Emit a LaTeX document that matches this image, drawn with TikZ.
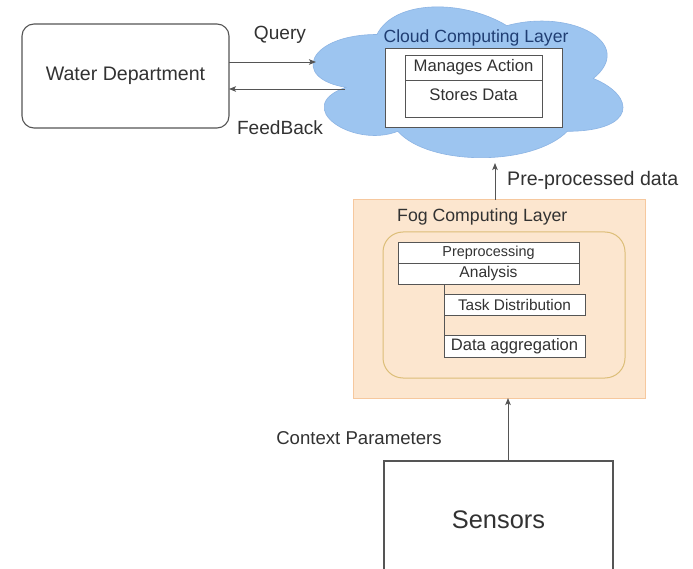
\documentclass[tikz,border=0pt]{standalone}
\usepackage{fontspec}
\setmainfont{Liberation Sans}
\usetikzlibrary{arrows.meta}
\definecolor{txt}{RGB}{50,50,50}
\definecolor{ln}{RGB}{85,85,85}
\definecolor{cloudfill}{RGB}{157,197,240}
\definecolor{cloudline}{RGB}{140,180,228}
\definecolor{cloudtxt}{RGB}{32,62,115}
\definecolor{fogfill}{RGB}{252,230,207}
\definecolor{fogline}{RGB}{246,200,158}
\definecolor{foginner}{RGB}{220,190,120}
\newcommand\myfs[1]{\fontsize{#1}{#1}\selectfont}
\begin{document}
\begin{tikzpicture}[x=1pt,y=-1pt,
  sized/.style 2 args={minimum width=#1pt, minimum height=#2pt, inner sep=0pt, outer sep=0pt},
  boxline/.style={draw=ln, line width=1.1pt},
  thinbox/.style={draw=ln, line width=0.9pt, fill=white},
  lbl/.style={text=txt, inner sep=0pt},
  arr/.style={draw=ln, line width=0.9pt, -{Stealth[length=7pt,width=5.5pt,inset=1.5pt]}}]
\useasboundingbox[fill=white] (0,0) rectangle (693,569);

% Water Department
\node[boxline, rounded corners=12pt, sized={207}{104}, text=txt, font=\myfs{19.6}] (water) at (125.5,76) {Water Department};

% Cloud
\draw[fill=cloudfill, draw=cloudline, line width=0.6pt]
  (377,34.5) .. controls (307.8,34.5) and (290.5,78.5) .. (345.9,87.3)
  .. controls (290.5,106.7) and (352.8,148.9) .. (397.8,131.3)
  .. controls (428.9,166.5) and (532.7,166.5) .. (567.3,131.3)
  .. controls (636.5,131.3) and (636.5,96.1) .. (593.3,78.5)
  .. controls (636.5,43.3) and (570.8,8.1) .. (506.8,25.7)
  .. controls (463.5,-0.7) and (394.3,-0.7) .. (377,34.5) -- cycle;
\node[lbl, text=cloudtxt, font=\myfs{17.6}] (cloudtitle) at (476,38) {Cloud Computing Layer};
\node[thinbox, sized={177}{79}] (cloudbox) at (473.5,87.5) {};
\node[thinbox, sized={137}{25}, text=txt, font=\myfs{16.7}] (manages) at (473.5,67.5) {Manages Action};
\node[thinbox, sized={137}{37}] (stores) at (473.5,98.5) {};
\node[lbl, font=\myfs{16.7}] (storestext) at (473.5,95) {Stores Data};

\coordinate (qend) at (316,62);
\coordinate (fbstart) at (345,89);
\coordinate (pptip) at (495,163);

\draw[arr] ([yshift=14pt]water.east) -- (qend);
\draw[arr] (fbstart) -- ([yshift=-13pt]water.east);
\node[lbl, font=\myfs{19.1}] (query) at (280,35) {Query};
\node[lbl, font=\myfs{19.1}] (feedback) at (280,128) {FeedBack};

% Fog
\node[draw=fogline, fill=fogfill, line width=1pt, sized={292}{198}] (fog) at (499,299) {};
\node[lbl, anchor=west, font=\myfs{17.7}] (fogtitle) at (397,217) {Fog Computing Layer};
\node[draw=foginner, line width=1pt, rounded corners=20pt, sized={242}{146}] (foginner) at (504,305) {};
\node[thinbox, sized={181}{21}, text=txt, font=\myfs{14.4}] (pre) at (488.5,252.5) {Preprocessing};
\node[thinbox, sized={181}{21}, text=txt, font=\myfs{15.6}] (analysis) at (488.5,273.5) {Analysis};
\node[thinbox, sized={141}{21}, text=txt, font=\myfs{15.4}] (task) at (514.5,304.5) {Task Distribution};
\node[thinbox, sized={141}{22}, text=txt, font=\myfs{16.6}] (agg) at (514.5,346) {Data aggregation};
\draw[draw=ln, line width=0.9pt] (task.west |- analysis.south) -- (agg.south west);

\draw[arr] ([xshift=-4pt]fog.north) -- (pptip);
\node[lbl, anchor=west, font=\myfs{19.6}] (pplabel) at (507,180) {Pre-processed data};

% Sensors
\node[sized={229}{108}] (sensors) at (498.5,515) {};
\node[lbl, font=\myfs{25.4}] (sensorstext) at (498.5,520) {Sensors};
\draw[draw=ln, line width=1.1pt] (sensors.south west) -- (sensors.north west) -- (sensors.north east) -- (sensors.south east);
\draw[arr] ([xshift=9.5pt]sensors.north) -- ([xshift=9pt]fog.south);
\node[lbl, font=\myfs{18.6}] (context) at (359,438) {Context Parameters};
\end{tikzpicture}
\end{document}
